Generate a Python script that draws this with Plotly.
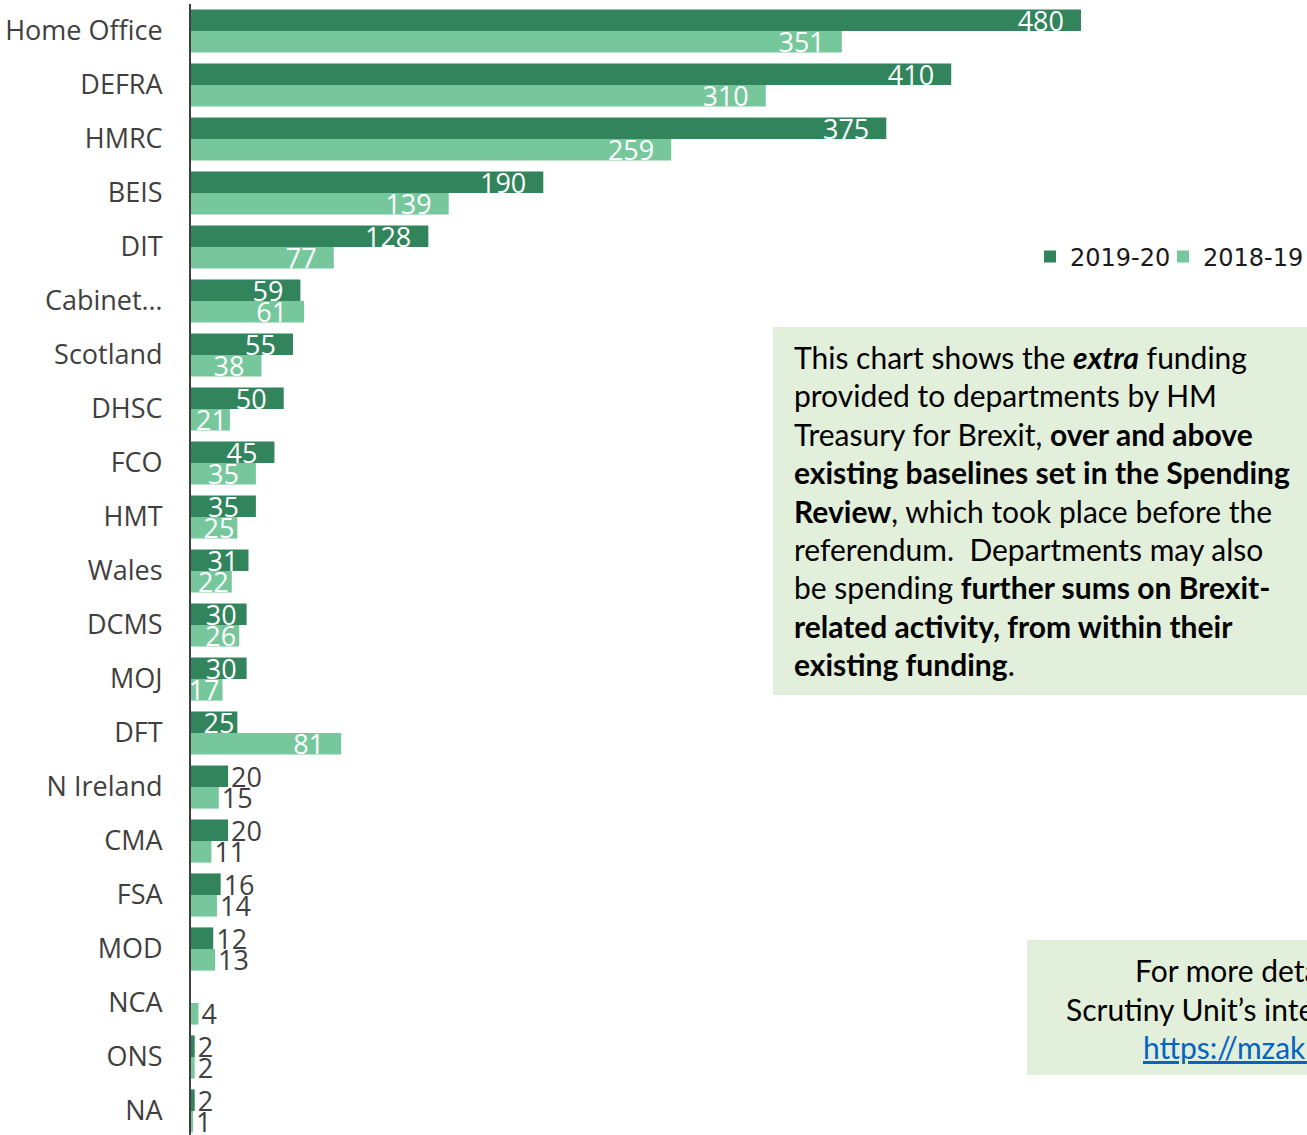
import plotly.graph_objects as go

categories = ["Home Office", "DEFRA", "HMRC", "BEIS", "DIT", "Cabinet…", "Scotland",
              "DHSC", "FCO", "HMT", "Wales", "DCMS", "MOJ", "DFT", "N Ireland",
              "CMA", "FSA", "MOD", "NCA", "ONS", "NA"]
funding_2019_20 = [480, 410, 375, 190, 128, 59, 55, 50, 45, 35, 31, 30, 30, 25, 20,
                   20, 16, 12, None, 2, 2]
funding_2018_19 = [351, 310, 259, 139, 77, 61, 38, 21, 35, 25, 22, 26, 17, 81, 15,
                   11, 14, 13, 4, 2, 1]
series_names = ["2019-20", "2018-19"]
series_colors = ["#31845B", "#76C89C"]
n_inside = 14  # first 14 categories carry labels inside the bar end

NB = "\u00a0"


def labels(vals):
    out, pos = [], []
    for i, v in enumerate(vals):
        if v is None:
            out.append("")
            pos.append("none")
            continue
        if i < n_inside:
            pad = 2 if v >= 35 else (1 if v >= 30 else 0)
            out.append(f"{v}" + NB * pad)
            pos.append("inside")
        else:
            out.append(f"{v}")
            pos.append("outside")
    return out, pos


W, H = 1307, 1135
L, T = 191, 4
PW, PH = W - L, H - T
px_per_unit = 890 / 480.0


def px(x):
    return (x - L) / PW


def py(y):
    return 1 - (y - T) / PH


fig = go.Figure()
for name, vals, col, lg in zip(series_names, [funding_2019_20, funding_2018_19],
                               series_colors, ["legend", "legend2"]):
    txt, pos = labels(vals)
    fig.add_trace(go.Bar(
        y=categories, x=vals, name=name, orientation="h",
        marker=dict(color=col, line=dict(width=0)),
        text=txt, textposition=pos, textangle=0, constraintext="none",
        insidetextanchor="end",
        insidetextfont=dict(family="Open Sans", size=27, color="white"),
        outsidetextfont=dict(family="Open Sans", size=27, color="#404040"),
        cliponaxis=False, legend=lg,
        hoverinfo="x+y+name",
    ))

legend_common = dict(
    orientation="h", xanchor="left", yanchor="middle", y=py(257),
    font=dict(family="DejaVu Sans", size=24, color="#1a1a1a"),
    bgcolor="rgba(0,0,0,0)", itemwidth=30,
)

fig.update_layout(
    width=W, height=H,
    margin=dict(l=L, r=0, t=T, b=0, pad=0, autoexpand=False),
    paper_bgcolor="white", plot_bgcolor="white",
    barmode="group", bargap=0.2, bargroupgap=0,
    xaxis=dict(range=[0, PW / px_per_unit], visible=False, showgrid=False, zeroline=False),
    yaxis=dict(
        type="category", categoryorder="array", categoryarray=categories,
        range=[-0.5 + PH / 54.0, -0.5],
        showline=True, linecolor="#404040", linewidth=2, showgrid=False,
        ticks="", ticklabelstandoff=21,
        tickfont=dict(family="Open Sans", size=27, color="#404040"),
    ),
    showlegend=True,
    legend=dict(x=px(1030), **legend_common),
    legend2=dict(x=px(1163), **legend_common),
    font=dict(family="Open Sans"),
)

box_fill = "#E2EFDA"
fig.add_shape(type="rect", xref="paper", yref="paper",
              x0=px(773), x1=px(1400), y0=py(695), y1=py(327),
              fillcolor=box_fill, line=dict(width=0), layer="below")
fig.add_shape(type="rect", xref="paper", yref="paper",
              x0=px(1027), x1=px(1500), y0=py(1075), y1=py(940),
              fillcolor=box_fill, line=dict(width=0), layer="below")

main_lines = [
    "This chart shows the <b><i>extra</i></b> funding",
    "provided to departments by HM",
    "Treasury for Brexit, <b>over and above</b>",
    "<b>existing baselines set in the Spending</b>",
    "<b>Review</b>, which took place before the",
    "referendum.  Departments may also",
    "be spending <b>further sums on Brexit-</b>",
    "<b>related activity, from within their</b>",
    "<b>existing funding</b>.",
]
for i, line in enumerate(main_lines):
    fig.add_annotation(xref="paper", yref="paper", x=px(792), y=py(357 + i * 38.4),
                       xanchor="left", yanchor="middle", showarrow=False,
                       text=line, align="left",
                       font=dict(family="Lato", size=30, color="black"))

more_lines = [
    (1133, 970, "For more details, see the Brexit"),
    (1064, 1009, "Scrutiny Unit’s interactive dashboard:"),
    (1141, 1047, "<span style='color:#0563C1'><u>https://mzaklt.com/brexit</u></span>"),
]
for x0, y0, line in more_lines:
    fig.add_annotation(xref="paper", yref="paper", x=px(x0), y=py(y0),
                       xanchor="left", yanchor="middle", showarrow=False,
                       text=line, align="left",
                       font=dict(family="Lato", size=30, color="black"))

fig.write_html("out.html", config={"displayModeBar": False, "responsive": False},
               post_script="document.body.style.margin='0';document.body.style.overflow='hidden';")
